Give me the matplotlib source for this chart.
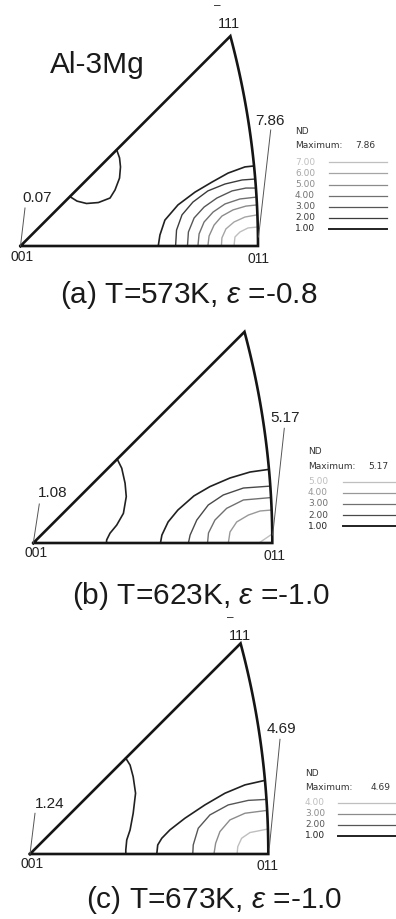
import numpy as np
import matplotlib.pyplot as plt
from matplotlib.lines import Line2D

plt.rcParams['font.family'] = ['Liberation Sans', 'DejaVu Sans']
plt.rcParams['mathtext.fontset'] = 'custom'
plt.rcParams['mathtext.rm'] = 'Liberation Sans'
plt.rcParams['mathtext.it'] = 'Liberation Sans:italic'

W, H = 396, 919

captions = ['(a) T=573K, $\\varepsilon$ =-0.8',
            '(b) T=623K, $\\varepsilon$ =-1.0',
            '(c) T=673K, $\\varepsilon$ =-1.0']
min_vals = ['0.07', '1.08', '1.24']
max_vals = ['7.86', '5.17', '4.69']
levels = [[1.0, 2.0, 3.0, 4.0, 5.0, 6.0, 7.0],
          [1.0, 2.0, 3.0, 4.0, 5.0],
          [1.0, 2.0, 3.0, 4.0]]

# iso-intensity lines in IPF units: 001 at (0, 0), 011 at (1, 0)
# high-intensity lines around 011, one per level
iso_a = [
    [(0.580, 0.000), (0.587, 0.046), (0.608, 0.109), (0.663, 0.173), (0.735, 0.227),
     (0.806, 0.269), (0.874, 0.307), (0.945, 0.333), (0.983, 0.337)],
    [(0.653, 0.000), (0.657, 0.067), (0.680, 0.131), (0.726, 0.185), (0.789, 0.232),
     (0.861, 0.261), (0.933, 0.278), (0.988, 0.282)],
    [(0.703, 0.000), (0.707, 0.059), (0.731, 0.118), (0.773, 0.164), (0.827, 0.202),
     (0.891, 0.232), (0.949, 0.244), (0.991, 0.244)],
    [(0.747, 0.000), (0.752, 0.051), (0.773, 0.101), (0.811, 0.143), (0.861, 0.177),
     (0.924, 0.198), (0.994, 0.206)],
    [(0.789, 0.000), (0.794, 0.042), (0.815, 0.088), (0.848, 0.126), (0.895, 0.152),
     (0.949, 0.168), (0.996, 0.173)],
    [(0.846, 0.000), (0.848, 0.034), (0.865, 0.072), (0.899, 0.101), (0.945, 0.122),
     (0.996, 0.131)],
    [(0.899, 0.000), (0.903, 0.038), (0.924, 0.059), (0.958, 0.076), (0.998, 0.080)],
]
iso_b = [
    [(0.532, 0.000), (0.538, 0.033), (0.564, 0.088), (0.605, 0.138), (0.672, 0.197),
     (0.739, 0.236), (0.823, 0.272), (0.907, 0.297), (0.985, 0.308)],
    [(0.649, 0.000), (0.656, 0.033), (0.684, 0.096), (0.732, 0.159), (0.795, 0.201),
     (0.879, 0.230), (0.991, 0.238)],
    [(0.729, 0.000), (0.733, 0.042), (0.760, 0.096), (0.809, 0.145), (0.879, 0.180),
     (0.994, 0.190)],
    [(0.816, 0.000), (0.823, 0.046), (0.851, 0.088), (0.900, 0.117), (0.949, 0.134),
     (0.997, 0.138)],
    [(0.944, 0.000), (0.997, 0.036)],
]
iso_c = [
    [(0.532, 0.000), (0.536, 0.038), (0.553, 0.066), (0.587, 0.101), (0.650, 0.150),
     (0.734, 0.206), (0.818, 0.255), (0.902, 0.290), (0.986, 0.309)],
    [(0.683, 0.000), (0.685, 0.038), (0.706, 0.108), (0.755, 0.164), (0.832, 0.206),
     (0.916, 0.225), (0.990, 0.229)],
    [(0.772, 0.000), (0.779, 0.045), (0.797, 0.094), (0.839, 0.143), (0.902, 0.171),
     (0.995, 0.183)],
    [(0.869, 0.000), (0.872, 0.031), (0.888, 0.066), (0.923, 0.090), (0.999, 0.105)],
]
# level 1.00 line on the low-intensity side
low_a = [(0.405, 0.405), (0.417, 0.371), (0.421, 0.333), (0.417, 0.286), (0.398, 0.236),
         (0.377, 0.202), (0.328, 0.183), (0.278, 0.179), (0.238, 0.189), (0.208, 0.208)]
low_b = [(0.351, 0.351), (0.370, 0.313), (0.384, 0.250), (0.389, 0.194), (0.377, 0.124),
         (0.349, 0.075), (0.321, 0.041), (0.307, 0.013), (0.306, 0.000)]
low_c = [(0.402, 0.402), (0.420, 0.373), (0.433, 0.324), (0.443, 0.255), (0.433, 0.171),
         (0.420, 0.101), (0.406, 0.059), (0.402, 0.017), (0.402, 0.000)]

iso_lines = [iso_a, iso_b, iso_c]
low_lines = [low_a, low_b, low_c]

# pixel position of the 001 corner and the 001-011 edge length
frames = [(20.5, 246.0, 237.5), (33.3, 543.0, 239.0), (30.0, 854.0, 238.3)]

# standard triangle: [011]-[111] great circle, center at -(1+sqrt2), radius 2+sqrt2
k = 1 + np.sqrt(2)
t = np.radians(np.linspace(0, 15, 80))
arc_x = -k + (k + 1) * np.cos(t)
arc_y = (k + 1) * np.sin(t)
tri_x = np.concatenate([[0.0], arc_x, [0.0]])
tri_y = np.concatenate([[0.0], arc_y, [0.0]])


def shade(i, n):
    g = 0.13 + 0.62 * i / max(n - 1, 1)
    return (g, g, g)


fig = plt.figure(figsize=(W / 100, H / 100), dpi=100)


def ftext(px, py, s, **kw):
    fig.text(px / W, 1 - py / H, s, **kw)


for p in range(3):
    x0, y0, L = frames[p]
    ax = fig.add_axes([0, 0, 1, 1])
    ax.set_xlim(-x0 / L, (W - x0) / L)
    ax.set_ylim((y0 - H) / L, y0 / L)
    ax.axis('off')
    ax.patch.set_alpha(0)

    def d(px, py):
        return (px - x0) / L, (y0 - py) / L

    n = len(levels[p])
    for i, line in enumerate(iso_lines[p]):
        xs, ys = zip(*line)
        ax.plot(xs, ys, color=shade(i, n), lw=1.2 if i == 0 else 1.0,
                solid_capstyle='butt')
    xs, ys = zip(*low_lines[p])
    ax.plot(xs, ys, color=shade(0, n), lw=1.2)
    ax.plot(tri_x, tri_y, color='#151515', lw=1.9, solid_joinstyle='miter')

    # leader lines from min / max labels
    lx, ly = d(*[(25, 208), (39.3, 504), (35, 813.3)][p])
    ax.plot([lx, 0], [ly, 0], color='#555555', lw=0.7)
    mx, my = d(*[(270.7, 130), (284.3, 428.3), (280, 739.3)][p])
    ex, ey = d(*[(258.5, 237), (272.7, 535), (269.3, 848)][p])
    ax.plot([mx, ex], [my, ey], color='#555555', lw=0.7)

    ftext(*[(37.5, 197.5), (52.5, 493), (50, 804)][p], min_vals[p],
          fontsize=11, ha='center', va='center', color='#222222')
    ftext(*[(270, 121), (285, 418), (281.5, 729)][p], max_vals[p],
          fontsize=11, ha='center', va='center', color='#222222')

    # corner labels
    ftext(*[(22, 257), (36, 553), (32.5, 864)][p], '001',
          fontsize=10, ha='center', va='center', color='#222222')
    ftext(*[(258.5, 259), (274, 556), (267.5, 866)][p], '011',
          fontsize=10, ha='center', va='center', color='#222222')

    ftext(*[(189, 295), (201, 596), (214, 900)][p], captions[p],
          fontsize=21.5, ha='center', va='center', color='#1a1a1a')

    # legend
    lgx, lgy, vx, rowy, line_x = [(295, 131.5, 355, 162.3, (329, 387)),
                                  (308, 451.7, 368, 481.7, (343, 401)),
                                  (305, 773, 371, 802.7, (338, 396))][p]
    ftext(lgx, lgy, 'ND', fontsize=6.5, va='center', color='#333333',
          family='DejaVu Sans')
    ftext(lgx, lgy + 14.5, 'Maximum:', fontsize=6.5, va='center',
          color='#333333', family='DejaVu Sans')
    ftext(vx, lgy + 14.5, max_vals[p], fontsize=6.5, va='center',
          color='#333333', family='DejaVu Sans')
    for j, lev in enumerate(levels[p][::-1]):
        i = n - 1 - j
        yy = rowy + 11.1 * j
        ftext(lgx, yy, f'{lev:.2f}', fontsize=6.5, va='center',
              color=shade(i, n), family='DejaVu Sans')
        fig.add_artist(Line2D([line_x[0] / W, line_x[1] / W],
                              [1 - yy / H, 1 - yy / H],
                              transform=fig.transFigure, color=shade(i, n),
                              lw=1.4 if i == 0 else 0.9))

# -111 pole labels, bar drawn as a dash above the first digit
ftext(228.5, 28.5, '111', fontsize=10.5, ha='center', va='baseline', color='#222222')
ftext(217, 12.5, '\u2013', fontsize=8.5, ha='center', va='bottom', color='#222222')
ftext(239.5, 640, '111', fontsize=10.5, ha='center', va='baseline', color='#222222')
ftext(230.5, 624.5, '\u2013', fontsize=8.5, ha='center', va='bottom', color='#222222')

ftext(97, 65, 'Al-3Mg', fontsize=21.5, ha='center', va='center', color='#1a1a1a')

fig.savefig('out.png', dpi=100)
